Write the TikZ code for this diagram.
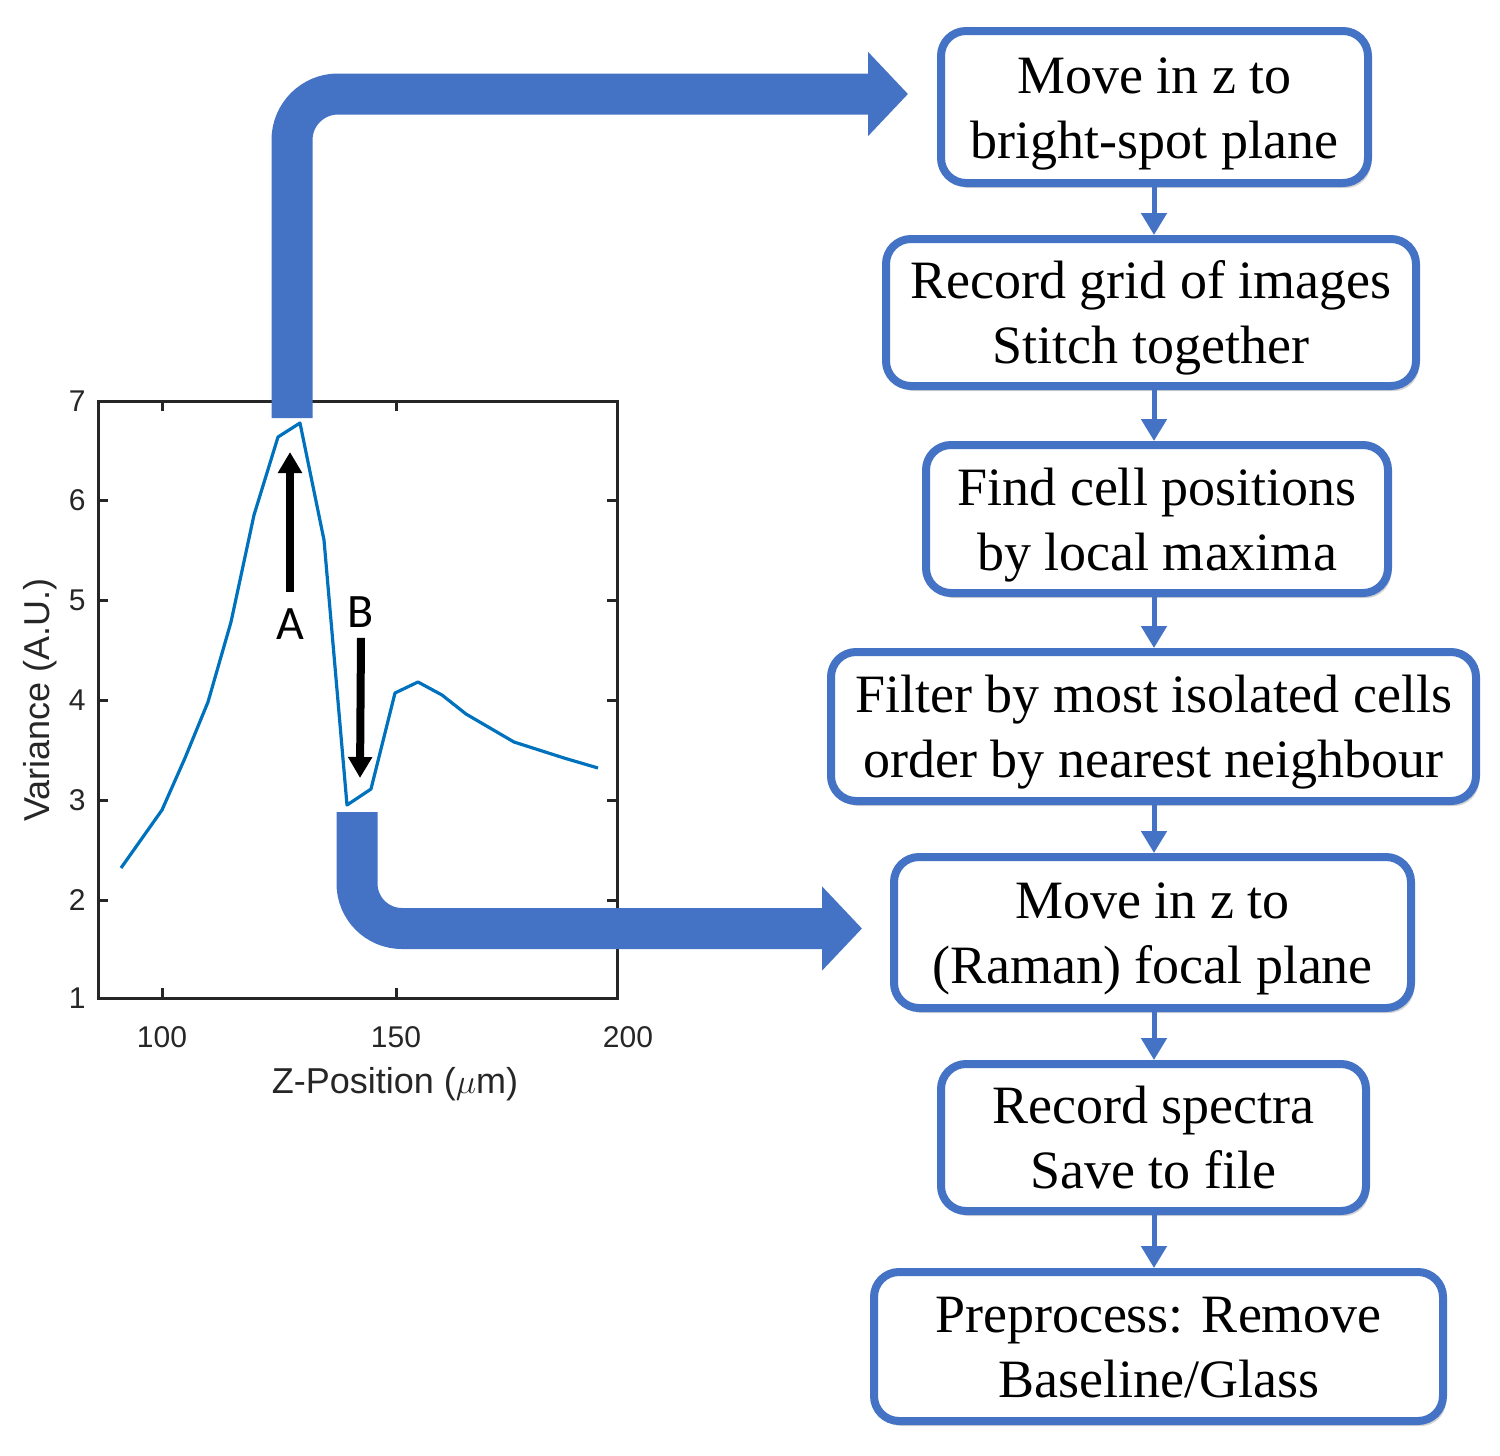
\documentclass[tikz,border=0pt]{standalone}
\usepackage{fontspec}
\setmainfont{Liberation Serif}
\setsansfont{Liberation Sans}
\newfontfamily\labfont{Carlito}
\usetikzlibrary{arrows.meta,shadows,calc}
\definecolor{boxblue}{HTML}{4472C4}
\definecolor{curveblue}{HTML}{0072BD}
\definecolor{axgray}{HTML}{262626}
\newcommand{\bxtext}[1]{\begin{tabular}{@{}c@{}}\rule{0pt}{28.5pt}#1\end{tabular}}
\tikzset{
  stepbox/.style={draw=boxblue, line width=4pt, rounded corners=12.5pt, fill=white,
    inner sep=0pt, font=\fontsize{27}{32.5}\selectfont,
    drop shadow={shadow xshift=1.5pt, shadow yshift=-2.5pt, opacity=0.35}},
  link/.style={draw=boxblue, line width=2.5pt, -{Triangle[length=11pt,width=12.5pt]}},
  bigarrow/.style={draw=boxblue, line width=20.5pt, -{Triangle[length=20pt,width=41pt]}},
  blkarrow/.style={draw=black, line width=4pt, -{Triangle[length=10.5pt,width=11.5pt]}},
  ticklab/.style={font=\sffamily\fontsize{15}{18}\selectfont, text=axgray, inner sep=0pt},
  axtitle/.style={font=\sffamily\fontsize{18}{21}\selectfont, text=axgray, inner sep=0pt},
  ablab/.style={font=\labfont\fontsize{24}{28}\selectfont, inner sep=0pt},
  axline/.style={draw=axgray, line width=1.5pt},
  curve/.style={draw=curveblue, line width=1.6pt, line join=round},
}
\begin{document}
\begin{tikzpicture}[x=0.5pt,y=-0.5pt]
\useasboundingbox (0,0) rectangle (1500,1456);

% ---- plot ----
\draw[curve] plot coordinates {(121,868) (162,810) (185,758) (208,702) (231,622) (254,515)
  (278,437) (300,423) (324,540) (347,805) (371,789) (395,693) (418,682) (442,695)
  (466,714) (514,742) (564,758) (598,768)};
\draw[axline] (98,401) rectangle (617,998);
\foreach \yy in {500,600,700,800,900}{
  \draw[axline] (98,\yy) -- (108,\yy);
  \draw[axline] (617,\yy) -- (607,\yy);
}
\foreach \xx in {162,396}{
  \draw[axline] (\xx,998) -- (\xx,988);
  \draw[axline] (\xx,401) -- (\xx,411);
}
\foreach \v/\yy in {7/401,6/500,5/600,4/700,3/800,2/900,1/998}{
  \node[ticklab, anchor=east] (yl\v) at (86,\yy) {\v};
}
\node[ticklab, anchor=base] (xl100) at (162,1047) {100};
\node[ticklab, anchor=base] (xl150) at (396,1047) {150};
\node[ticklab, anchor=base] (xl200) at (628,1047) {200};
\node[axtitle, anchor=base] (xtitle) at (395,1093) {Z-Position ($\mu$m)};
\node[axtitle, rotate=90] (ytitle) at (40,700) {Variance (A.U.)};

% A / B markers
\node[ablab] (labA) at (290,624) {A};
\node[ablab] (labB) at (361,612) {B};
\coordinate (peakA) at (290,452);
\coordinate (dipB) at (360,778);
\draw[blkarrow] ([yshift=8pt]labA.north) -- (peakA);
\draw[blkarrow] ([yshift=-5pt]labB.south) -- (dipB);

% ---- flow boxes ----
\node[stepbox, minimum width=213.5pt, minimum height=76pt] (b1) at (1154.5,107)
  {\bxtext{Move in z to\\bright-spot plane}};
\node[stepbox, minimum width=265pt, minimum height=73.5pt] (b2) at (1151,312.5)
  {\bxtext{Record grid of images\\Stitch together}};
\node[stepbox, minimum width=231pt, minimum height=74pt] (b3) at (1157,519)
  {\bxtext{Find cell positions\\by local maxima}};
\node[stepbox, minimum width=322.5pt, minimum height=74.5pt] (b4) at (1153.5,726.5)
  {\bxtext{Filter by most isolated cells\\order by nearest neighbour}};
\node[stepbox, minimum width=258.5pt, minimum height=75.5pt] (b5) at (1152.5,932.5)
  {\bxtext{Move in z to\\(Raman) focal plane}};
\node[stepbox, minimum width=212.5pt, minimum height=73.5pt] (b6) at (1153.5,1137.5)
  {\bxtext{Record spectra\\Save to file}};
\node[stepbox, minimum width=284.5pt, minimum height=74.5pt] (b7) at (1158.5,1346.5)
  {\bxtext{Preprocess: Remove\\Baseline/Glass}};

\coordinate (spine) at (1154,0);
\foreach \a/\b in {b1/b2,b2/b3,b3/b4,b4/b5,b5/b6,b6/b7}{
  \draw[link] (spine |- \a.south) -- (spine |- \b.north);
}

% ---- big arrows ----
\coordinate (Aend) at (292,418);
\coordinate (Bend) at (357,812);
\draw[bigarrow, rounded corners=23pt] (Aend) |- ($(b1.west)+(-29,-13)$);
\draw[bigarrow, rounded corners=22.5pt] (Bend) |- ($(b5.west)+(-28,-4)$);
\end{tikzpicture}
\end{document}
